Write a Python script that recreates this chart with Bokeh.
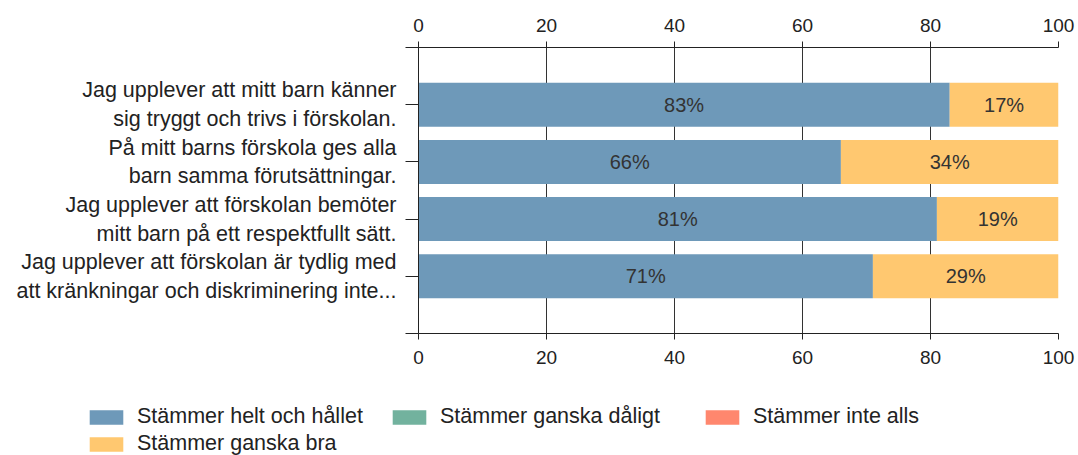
from bokeh.plotting import figure
from bokeh.layouts import column
from bokeh.models import (Range1d, LinearAxis, FixedTicker, ColumnDataSource,
                          Legend, LegendItem)
from bokeh.core.properties import value
from bokeh.embed import file_html
from bokeh.resources import INLINE

questions = [
    "Jag upplever att mitt barn känner\nsig tryggt och trivs i förskolan.",
    "På mitt barns förskola ges alla\nbarn samma förutsättningar.",
    "Jag upplever att förskolan bemöter\nmitt barn på ett respektfullt sätt.",
    "Jag upplever att förskolan är tydlig med\natt kränkningar och diskriminering inte...",
]
series_names = ["Stämmer helt och hållet", "Stämmer ganska bra",
                "Stämmer ganska dåligt", "Stämmer inte alls"]
helt = [83, 66, 81, 71]
bra = [17, 34, 19, 29]
daligt = [0, 0, 0, 0]
inte_alls = [0, 0, 0, 0]
colors = ["#6e99b9", "#ffc870", "#72b29e", "#ff876e"]
x_ticks = [0, 20, 40, 60, 80, 100]

FONT = "Liberation Sans"
TXT = "#222222"

n = len(questions)
ypos = [n - i for i in range(n)]
series = [helt, bra, daligt, inte_alls]

p = figure(width=1078, height=400, x_range=Range1d(0, 100), y_range=Range1d(0, n + 1),
           x_axis_location="above", output_backend="svg", toolbar_location=None,
           min_border_left=418, min_border_right=20, min_border_top=47,
           min_border_bottom=67)
p.outline_line_color = None
p.background_fill_color = "white"
p.frame_align = False

left = [0.0] * n
for vals, col in zip(series, colors):
    right = [l + v for l, v in zip(left, vals)]
    src = ColumnDataSource(dict(y=ypos, left=left, right=right))
    p.hbar(y="y", left="left", right="right", height=0.77, source=src,
           fill_color=col, line_color=None)
    lab_x = [(l + rr) / 2 for l, rr, v in zip(left, right, vals) if v > 0]
    lab_y = [y for y, v in zip(ypos, vals) if v > 0]
    lab_t = [f"{v}%" for v in vals if v > 0]
    if lab_t:
        p.text(x=lab_x, y=lab_y, text=lab_t, text_align="center",
               text_baseline="middle", text_font=value(FONT),
               text_font_size=value("20px"), text_color="#333333")
    left = right

def style_x(ax, standoff):
    ax.ticker = FixedTicker(ticks=x_ticks)
    ax.major_tick_out = 6
    ax.major_tick_in = 0
    ax.minor_tick_line_color = None
    ax.axis_line_color = "#222222"
    ax.major_tick_line_color = "#222222"
    ax.major_label_text_font = FONT
    ax.major_label_text_font_size = "19px"
    ax.major_label_text_color = TXT
    ax.major_label_standoff = standoff

style_x(p.xaxis[0], 10)
bottom_ax = LinearAxis()
style_x(bottom_ax, 11)
p.add_layout(bottom_ax, "below")

yax = p.yaxis[0]
yax.ticker = FixedTicker(ticks=list(range(0, n + 2)))
overrides = {0: "", n + 1: ""}
for q, y in zip(questions, ypos):
    overrides[y] = q
yax.major_label_overrides = overrides
yax.major_tick_out = 13
yax.major_tick_in = 0
yax.minor_tick_line_color = None
yax.axis_line_color = "#222222"
yax.major_tick_line_color = "#222222"
yax.major_label_text_font = FONT
yax.major_label_text_font_size = "21.5px"
yax.major_label_text_color = TXT
yax.major_label_standoff = 9

p.xgrid.ticker = FixedTicker(ticks=x_ticks)
p.xgrid.grid_line_color = "#333333"
p.xgrid.grid_line_width = 1
p.ygrid.grid_line_color = None

# legend strip
lg = figure(width=1078, height=55, x_range=Range1d(0, 1), y_range=Range1d(0, 1),
            x_axis_location=None, y_axis_location=None, output_backend="svg",
            toolbar_location=None, min_border=0)
lg.outline_line_color = None
lg.grid.grid_line_color = None
lg.frame_align = False
# swatch renderers kept outside the visible range (only their legend glyphs show)
swatches = [lg.hbar(y=[5], left=[5], right=[6], height=1, fill_color=c, line_color=None)
            for c in colors]

def make_legend(idx, loc):
    item = LegendItem(label=series_names[idx], renderers=[swatches[idx]])
    return Legend(items=[item], location=loc, orientation="horizontal",
                  spacing=0, padding=0, margin=0, glyph_width=42, glyph_height=18,
                  label_height=18, label_standoff=10, label_text_font=FONT,
                  label_text_font_size="21.5px", label_text_color=TXT,
                  border_line_color=None, background_fill_alpha=0)

lg.add_layout(make_legend(0, (85, 26)))
lg.add_layout(make_legend(2, (388, 26)))
lg.add_layout(make_legend(3, (701, 26)))
lg.add_layout(make_legend(1, (85, -1)))

open("out.html", "w").write(file_html(column(p, lg, spacing=0), INLINE))
